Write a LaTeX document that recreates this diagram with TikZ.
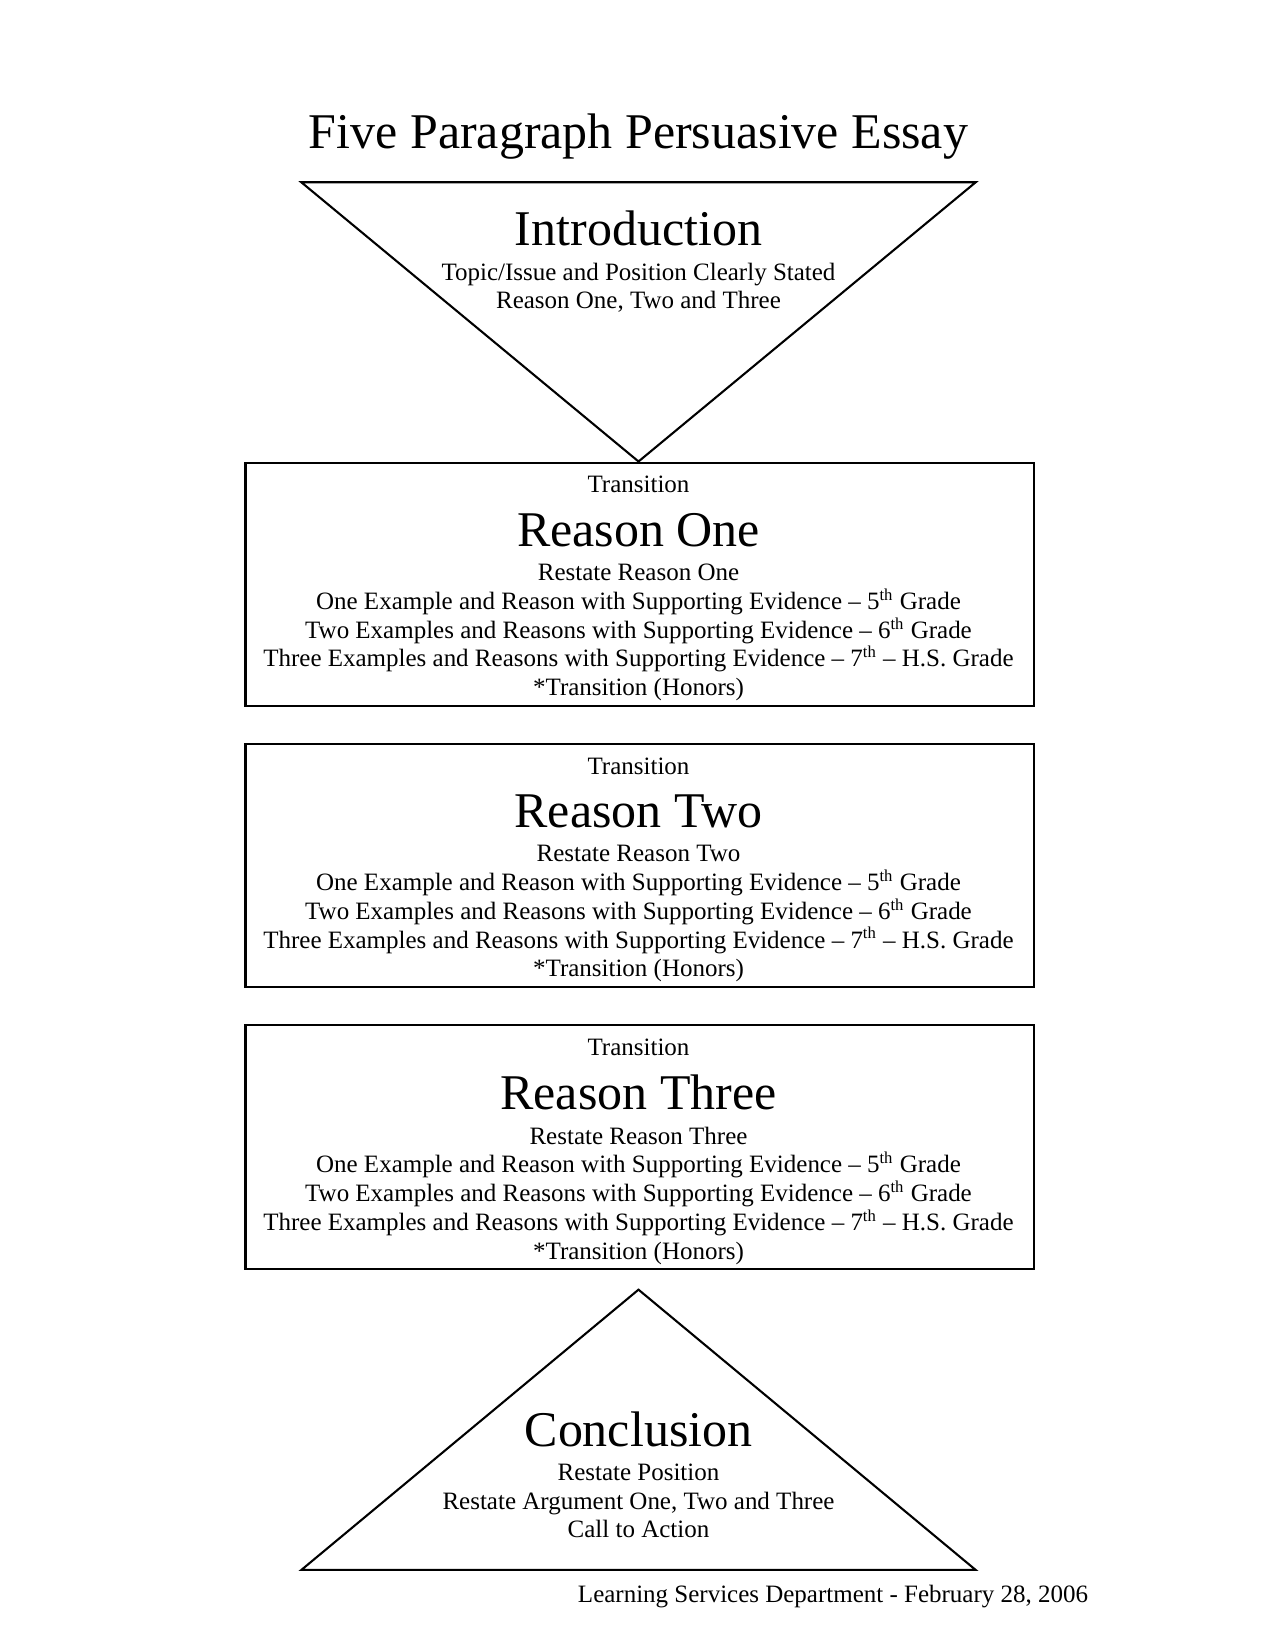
\documentclass[tikz,border=0pt]{standalone}
\usepackage{fontspec}
\setmainfont{Liberation Serif}
\newcommand{\gradelines}{One Example and Reason with Supporting Evidence -- 5\textsuperscript{th} Grade\\
Two Examples and Reasons with Supporting Evidence -- 6\textsuperscript{th} Grade\\
Three Examples and Reasons with Supporting Evidence -- 7\textsuperscript{th} -- H.S. Grade\\
*Transition (Honors)}
\tikzset{
  reasonbox/.style={draw, line width=1pt, rectangle, minimum width=748*0.506pt, minimum height=231*0.506pt, anchor=north west, inner sep=0pt},
  bodytext/.style={align=center, font=\fontsize{12}{13.8}\selectfont, inner sep=0pt},
  headtext/.style={font=\fontsize{24}{26}\selectfont, inner sep=0pt},
}
\begin{document}
\begin{tikzpicture}[x=0.506pt, y=-0.506pt]
    \useasboundingbox (0,0) rectangle (1210,1566);

    \node[font=\fontsize{24}{26}\selectfont, inner sep=0pt] (title) at (606, 130) {Five Paragraph Persuasive Essay};

    % Introduction
    \draw[line width=1pt] (286, 173) -- (926, 173) -- (606, 438) -- cycle;
    \node[headtext] (intro) at (606, 217) {Introduction};
    \node[bodytext, anchor=north] (introtext) at (606, 249) {Topic/Issue and Position Clearly Stated\\Reason One, Two and Three};

    % Reason one
    \node[reasonbox] (box1) at (232, 438) {};
    \node[bodytext] (trans1) at (606, 460) {Transition};
    \node[headtext] (head1) at (606, 503) {Reason One};
    \node[bodytext, anchor=north] (text1) at (606, 535) {Restate Reason One\\\gradelines};

    % Reason two
    \node[reasonbox] (box2) at (232, 705) {};
    \node[bodytext] (trans2) at (606, 727) {Transition};
    \node[headtext] (head2) at (606, 770) {Reason Two};
    \node[bodytext, anchor=north] (text2) at (606, 802) {Restate Reason Two\\\gradelines};

    % Reason three
    \node[reasonbox] (box3) at (232, 972) {};
    \node[bodytext] (trans3) at (606, 994) {Transition};
    \node[headtext] (head3) at (606, 1037) {Reason Three};
    \node[bodytext, anchor=north] (text3) at (606, 1069) {Restate Reason Three\\\gradelines};

    % Conclusion
    \draw[line width=1pt] (606, 1224) -- (926, 1490) -- (286, 1490) -- cycle;
    \node[headtext] (concl) at (606, 1357) {Conclusion};
    \node[bodytext, anchor=north] (concltext) at (606, 1389) {Restate Position\\Restate Argument One, Two and Three\\Call to Action};

    \node[bodytext, anchor=east] (footer) at (1033, 1515) {Learning Services Department - February 28, 2006};
\end{tikzpicture}
\end{document}
